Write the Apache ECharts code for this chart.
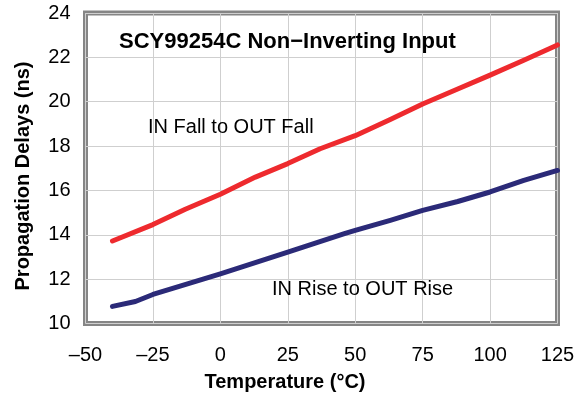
<!DOCTYPE html>
<html>
<head>
<meta charset="utf-8">
<script src="https://cdn.jsdelivr.net/npm/echarts@6/dist/echarts.min.js"></script>
<style>
  html, body { margin: 0; padding: 0; background: #fff; }
  #chart { width: 587px; height: 397px; }
</style>
</head>
<body>
<div id="chart"></div>
<script>
// Propagation delay vs. temperature, two edge transitions
const fallTemps = [-40, -25, -13, 0, 13, 25, 37, 50, 63, 75, 88, 100, 112.5, 125];
const fallDelays = [13.72, 14.46, 15.15, 15.83, 16.60, 17.21, 17.88, 18.47, 19.20, 19.90, 20.57, 21.20, 21.87, 22.56];

const riseTemps = [-40, -31.5, -25, 0, 25, 46, 50, 63, 75, 88, 100, 112.5, 125];
const riseDelays = [10.77, 10.99, 11.31, 12.24, 13.22, 14.05, 14.20, 14.65, 15.10, 15.50, 15.93, 16.45, 16.90];

const xTicks = [-50, -25, 0, 25, 50, 75, 100, 125];
const yTicks = [10, 12, 14, 16, 18, 20, 22, 24];

const chartTitle = 'SCY99254C Non\u2212Inverting Input';
const fallLabel = 'IN Fall to OUT Fall';
const riseLabel = 'IN Rise to OUT Rise';
const xTitle = 'Temperature (\u00B0C)';
const yTitle = 'Propagation Delays (ns)';

const FONT = '"Liberation Sans", Arial, Helvetica, sans-serif';

function pairs(xs, ys) { return xs.map((x, i) => [x, ys[i]]); }

const chart = echarts.init(document.getElementById('chart'), null, { renderer: 'canvas' });

chart.setOption({
  animation: false,
  backgroundColor: '#ffffff',
  grid: {
    left: 85.5, top: 13, right: 29.5, bottom: 73.5,
    show: true, borderColor: '#858585', borderWidth: 5, backgroundColor: 'transparent'
  },
  title: {
    text: chartTitle,
    left: 114, top: 26,
    textStyle: { fontFamily: FONT, fontSize: 22, fontWeight: 'bold', color: '#000' }
  },
  xAxis: {
    type: 'value',
    min: xTicks[0], max: xTicks[xTicks.length - 1], interval: 25,
    axisLine: { show: false },
    axisTick: { show: false },
    splitLine: { show: true, lineStyle: { color: '#cfcfcf', width: 1 } },
    axisLabel: {
      margin: 22,
      fontFamily: FONT, fontSize: 20, color: '#000',
      formatter: v => (v < 0 ? '\u2013' + Math.abs(v) : String(v))
    }
  },
  yAxis: {
    type: 'value',
    min: yTicks[0], max: yTicks[yTicks.length - 1], interval: 2,
    axisLine: { show: false },
    axisTick: { show: false },
    splitLine: { show: true, lineStyle: { color: '#cfcfcf', width: 1 } },
    axisLabel: { margin: 15, fontFamily: FONT, fontSize: 20, color: '#000' }
  },
  graphic: [
    {
      type: 'text', left: 148, top: 117, z: 10,
      style: { text: fallLabel, fontFamily: FONT, fontSize: 20, fill: '#000' }
    },
    {
      type: 'text', left: 272, top: 279, z: 10,
      style: { text: riseLabel, fontFamily: FONT, fontSize: 20, fill: '#000' }
    },
    {
      type: 'text', x: 285, y: 382, z: 10,
      style: {
        text: xTitle, fontFamily: FONT, fontSize: 20, fontWeight: 'bold', fill: '#000',
        align: 'center', verticalAlign: 'middle'
      }
    },
    {
      type: 'text', x: 23, y: 176, rotation: Math.PI / 2, z: 10,
      style: {
        text: yTitle, fontFamily: FONT, fontSize: 20, fontWeight: 'bold', fill: '#000',
        align: 'center', verticalAlign: 'middle'
      }
    }
  ],
  series: [
    {
      name: fallLabel, type: 'line', data: pairs(fallTemps, fallDelays),
      showSymbol: false, smooth: false,
      lineStyle: { color: '#ee2a2e', width: 5, cap: 'round', join: 'round' },
      z: 5
    },
    {
      name: riseLabel, type: 'line', data: pairs(riseTemps, riseDelays),
      showSymbol: false, smooth: false,
      lineStyle: { color: '#2b2a78', width: 5, cap: 'round', join: 'round' },
      z: 5
    }
  ]
});
</script>
</body>
</html>
